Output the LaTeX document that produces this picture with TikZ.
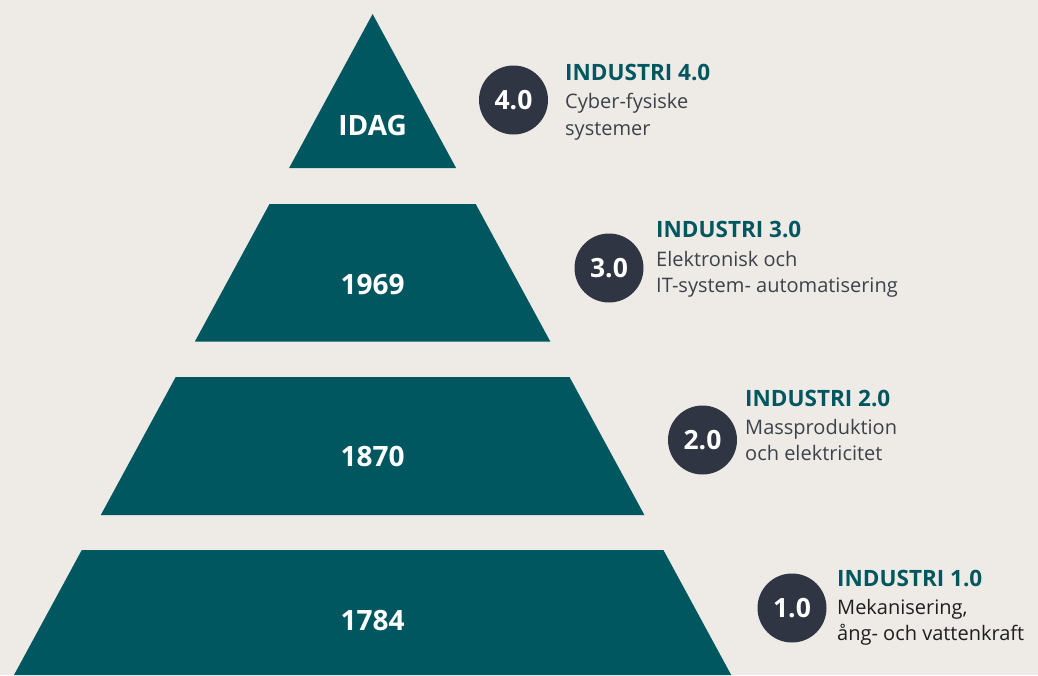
\documentclass[tikz,border=0pt]{standalone}
\usepackage{fontspec}
\setmainfont{Open Sans}
\definecolor{bg}{HTML}{EEEBE7}
\definecolor{teal}{HTML}{00575F}
\definecolor{dark}{HTML}{2F3542}
\definecolor{desc}{HTML}{3C4249}
\definecolor{descdark}{HTML}{1E1E1E}
\tikzset{
  band/.style={fill=teal},
  yearlabel/.style={text=white,font=\bfseries\fontsize{28}{32}\selectfont,inner sep=0pt},
  badge/.style={circle,fill=dark,minimum size=69pt,inner sep=0pt,text=white,font=\bfseries\fontsize{26.5}{30}\selectfont},
  title/.style={anchor=base west,inner sep=0pt,text=teal,font=\bfseries\fontsize{22.5}{26}\selectfont},
  line/.style={anchor=base west,inner sep=0pt,text=desc,font=\fontsize{20}{24}\selectfont},
}
\begin{document}
\begin{tikzpicture}[x=1pt,y=-1pt]
\useasboundingbox (0,0) rectangle (1038,675);
\fill[bg] (0,0) rectangle (1038,675);
% pyramid bands (center 372.6, half width 0.5425*(y-14))
\fill[band] (372.6,14) -- (456.1,168) -- (289.1,168) -- cycle;
\fill[band] (269.5,204) -- (475.7,204) -- (550.3,341.5) -- (194.9,341.5) -- cycle;
\fill[band] (175.7,377) -- (569.5,377) -- (644.4,515) -- (100.8,515) -- cycle;
\fill[band] (81.8,550) -- (663.4,550) -- (731.2,675) -- (14,675) -- cycle;
\node[yearlabel] (idag) at (372.6,125) {IDAG};
\node[yearlabel] (y1969) at (372.6,285) {1969};
\node[yearlabel] (y1870) at (372.6,456) {1870};
\node[yearlabel] (y1784) at (372.6,621) {1784};
% badges
\node[badge] (b4) at (513.5,100) {4.0};
\node[badge] (b3) at (609,268) {3.0};
\node[badge] (b2) at (702.5,440) {2.0};
\node[badge] (b1) at (792,608) {1.0};
% texts
\node[title] (t4) at (565,80) {INDUSTRI 4.0};
\node[line] (d4a) at (565,108) {Cyber-fysiske};
\node[line] (d4b) at (565,135) {systemer};
\node[title] (t3) at (656,237) {INDUSTRI 3.0};
\node[line] (d3a) at (656,266) {Elektronisk och};
\node[line] (d3b) at (656,292) {IT-system- automatisering};
\node[title] (t2) at (745,406) {INDUSTRI 2.0};
\node[line] (d2a) at (745,434) {Massproduktion};
\node[line] (d2b) at (745,460) {och elektricitet};
\node[title] (t1) at (837,586) {INDUSTRI 1.0};
\node[line,text=descdark] (d1a) at (837,614) {Mekanisering,};
\node[line,text=descdark] (d1b) at (837,640) {ång- och vattenkraft};
\end{tikzpicture}
\end{document}
